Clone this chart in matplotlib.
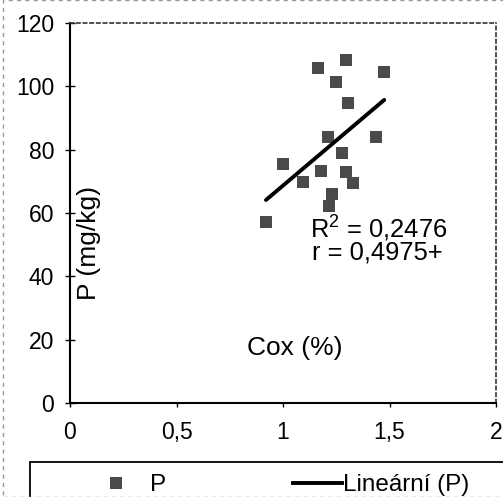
import matplotlib
matplotlib.use("Agg")
from matplotlib import pyplot as plt
from matplotlib.lines import Line2D
from matplotlib.patches import Rectangle

plt.rcParams['font.family'] = ['Liberation Sans', 'DejaVu Sans']
plt.rcParams['mathtext.fontset'] = 'custom'
plt.rcParams['mathtext.rm'] = 'Liberation Sans'

# Cox (%) vs P (mg/kg)
cox = [1.163, 1.296, 1.475, 1.249, 1.304, 1.210, 1.437, 1.275, 1.000, 1.180,
       1.296, 1.327, 1.094, 1.230, 1.214, 0.921]
p = [105.7, 108.3, 104.6, 101.5, 94.6, 84.1, 84.1, 78.8, 75.5, 73.3,
     73.0, 69.4, 69.7, 66.0, 62.3, 57.3]

# linear trend line end points
trend_x = [0.92, 1.475]
trend_y = [64.1, 95.7]

xticks = [0, 0.5, 1, 1.5, 2]
xtick_labels = ["0", "0,5", "1", "1,5", "2"]
yticks = [0, 20, 40, 60, 80, 100, 120]

W, H = 503, 497
fig = plt.figure(figsize=(W / 100, H / 100), dpi=100)
ax = fig.add_axes([70 / W, (H - 403) / H, 426 / W, 380 / H])

ax.plot(cox, p, 's', color='#4a4a4a', markersize=8, markeredgewidth=0, label='P')
ax.plot(trend_x, trend_y, '-', color='black', linewidth=2.8, solid_capstyle='round',
        label='Lineární (P)')

ax.set_xlim(0, 2)
ax.set_ylim(0, 120)
ax.set_xticks(xticks)
ax.set_xticklabels(xtick_labels)
ax.set_yticks(yticks)
ax.tick_params(axis='y', direction='inout', length=7, width=1, labelsize=16.5, pad=8)
ax.tick_params(axis='x', direction='out', length=3, width=1, labelsize=16.5, pad=10)

for side in ['left', 'bottom']:
    ax.spines[side].set_linewidth(1.5)
for side in ['top', 'right']:
    ax.spines[side].set_linewidth(1.2)
    ax.spines[side].set_linestyle((0, (2, 2)))
    ax.spines[side].set_color('#333333')

ax.text(1.127, 52.4, "R$^2$ = 0,2476", fontsize=18.4, va='baseline', ha='left')
ax.text(1.136, 45.2, "r = 0,4975+", fontsize=18.4, va='baseline', ha='left')
ax.text(0.831, 15.2, "Cox (%)", fontsize=19, va='baseline', ha='left')
ax.text(0.09, 50.5, "P (mg/kg)", fontsize=19, rotation=90, va='center', ha='center')

# legend box at the bottom
fig.patches.append(Rectangle((30 / W, -0.05), 1.0, (H - 462) / H + 0.05,
                             transform=fig.transFigure, fill=False,
                             edgecolor='black', linewidth=1.3))
h_pts = Line2D([], [], marker='s', linestyle='none', color='#4a4a4a',
               markersize=8, markeredgewidth=0)
h_line = Line2D([], [], color='black', linewidth=2.8)
fig.legend([h_pts], ['P'], loc='center left', bbox_to_anchor=(92 / W, (H - 485) / H),
           frameon=False, fontsize=17.5, handlelength=2.0, handletextpad=0.4,
           borderpad=0, borderaxespad=0)
fig.legend([h_line], ['Lineární (P)'], loc='center left',
           bbox_to_anchor=(293 / W, (H - 485) / H), frameon=False, fontsize=17.5,
           handlelength=2.0, handletextpad=0.05, borderpad=0, borderaxespad=0)

# faint dashed frame of the scanned chart
fig.patches.append(Rectangle((3 / W, 0.0), 1.0, 0.999, transform=fig.transFigure,
                             fill=False, edgecolor='#999999', linewidth=1,
                             linestyle=(0, (3, 3))))

plt.savefig('out.png', dpi=100)
